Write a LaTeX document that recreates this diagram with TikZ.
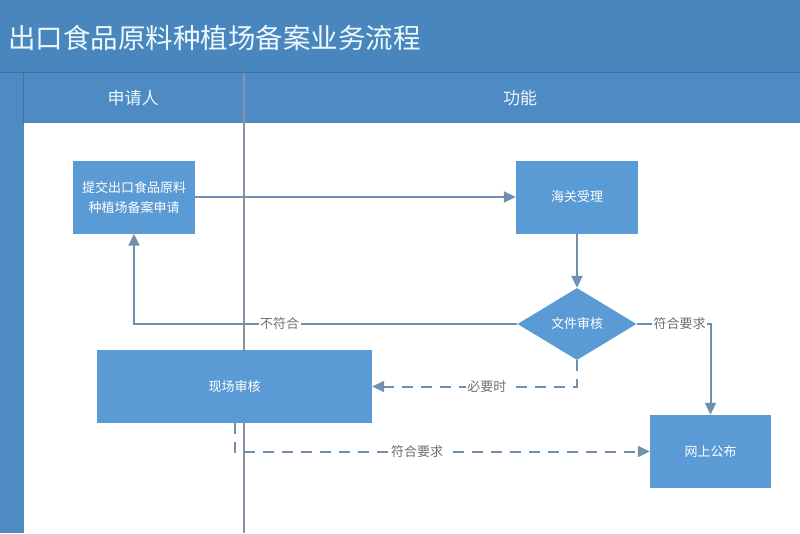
\documentclass[tikz,border=0pt]{standalone}
\usepackage{fontspec}
\usepackage{xcolor}
\newfontfamily\cjk{Noto Sans CJK SC}
\usetikzlibrary{shapes.geometric, arrows.meta, positioning, calc}
\definecolor{bandblue}{HTML}{4A86BE}
\definecolor{headblue}{HTML}{4E8AC3}
\definecolor{boxblue}{HTML}{5B9BD5}
\definecolor{flowgray}{HTML}{7090B0}
\definecolor{labelgray}{HTML}{707070}
\definecolor{lanegray}{HTML}{8595A6}

\begin{document}
\begin{tikzpicture}[x=1pt, y=-1pt,
	procbox/.style={fill=boxblue, text=white, align=center, inner sep=2pt, minimum width=122pt, minimum height=73pt, font=\cjk\fontsize{13}{20}\selectfont},
	checkbox/.style={diamond, fill=boxblue, text=white, inner sep=0pt, minimum width=119pt, minimum height=72pt, font=\cjk\fontsize{13}{16}\selectfont},
	flow/.style={flowgray, line width=2pt, -{Triangle[length=12pt, width=11pt]}},
	optflow/.style={flow, dash pattern=on 11pt off 8pt},
	lbl/.style={fill=white, text=labelgray, inner sep=1.5pt, font=\cjk\fontsize{13}{16}\selectfont}]
		\useasboundingbox (0,0) rectangle (800,533);
		\pgfmathsetmacro{\headtop}{73}
		\pgfmathsetmacro{\headbot}{123}
		\pgfmathsetmacro{\lanex}{244}
		% bands
		\fill[bandblue] (0,0) rectangle (800,\headtop);
		\fill[headblue] (0,\headtop) rectangle (800,\headbot);
		\fill[headblue] (0,\headbot) rectangle (24,533);
		\draw[bandblue!85!black, line width=0.8pt] (0,\headtop-0.5) -- (800,\headtop-0.5);
		\draw[bandblue!85!black, line width=0.8pt] (23,\headtop) -- (23,\headbot);
		\node[anchor=west, text=white!92!cyan, inner sep=0pt, font=\cjk\fontsize{27.5}{30}\selectfont] (title) at (8,38) {出口食品原料种植场备案业务流程};
		\node[text=white!92!cyan, font=\cjk\fontsize{17}{20}\selectfont] (lane1) at (133,98) {申请人};
		\node[text=white!92!cyan, font=\cjk\fontsize{17}{20}\selectfont] (lane2) at (520,98) {功能};
		\draw[lanegray, line width=1.5pt] (\lanex,\headtop) -- (\lanex,533);
		
		% steps
		\node[procbox] (submit) at (134,197) {提交出口食品原料\\种植场备案申请};
		\node[procbox] (accept) at (577,197) {海关受理};
		\node[checkbox] (filecheck) at (577,324) {文件审核};
		\node[procbox, minimum width=275pt] (sitecheck) at (234.5,386.5) {现场审核};
		\node[procbox, minimum width=121pt] (publish) at (710.5,451.5) {网上公布};
		
		% connectors
		\draw[flow] (submit.east) -- (accept.west);
		\draw[flow] (accept.south) -- (filecheck.north);
		\draw[flow] (filecheck.west) -- node[lbl, pos=0.62] {不符合} (submit.south |- filecheck.west) -- (submit.south);
		\draw[flow] (filecheck.east) -- node[lbl, pos=0.58] {符合要求} (publish.north |- filecheck.east) -- (publish.north);
		\draw[optflow] (filecheck.south) |- node[lbl, pos=0.72] {必要时} (sitecheck.east);
		\draw[optflow] (sitecheck.south) |- node[lbl, pos=0.72] {符合要求} (publish.west);
\end{tikzpicture}
\end{document}
